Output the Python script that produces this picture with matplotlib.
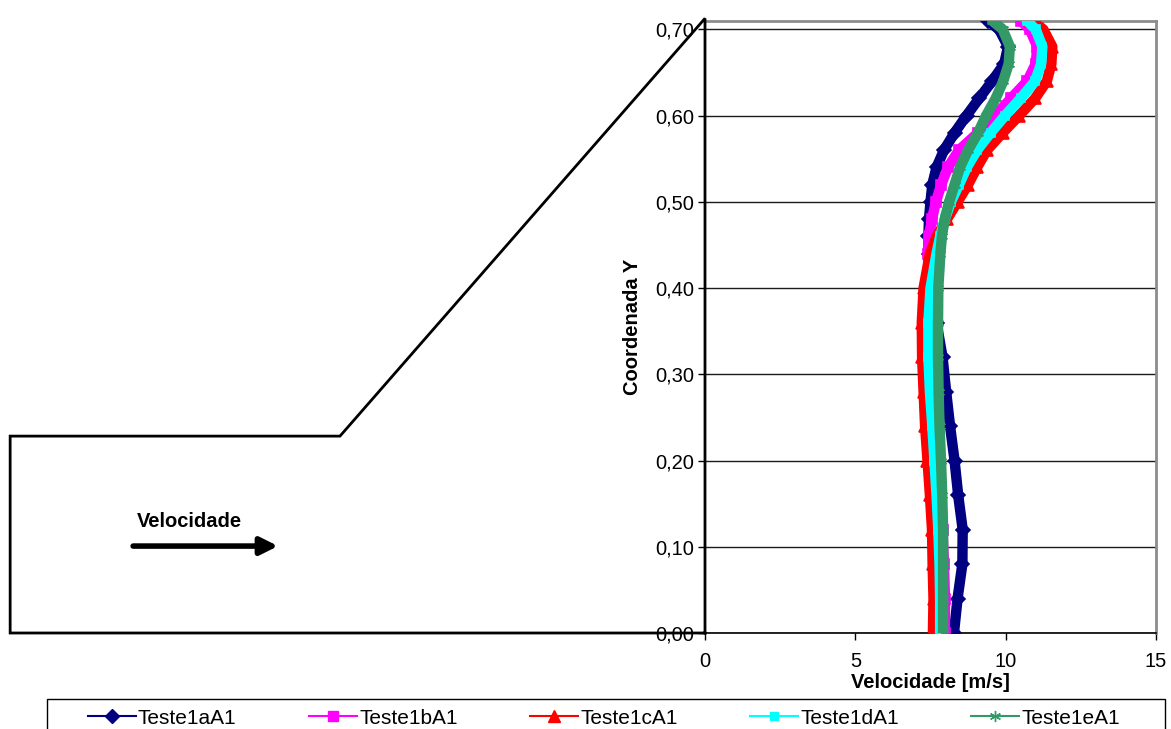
import matplotlib
matplotlib.use("Agg")
import matplotlib.pyplot as plt
from matplotlib.lines import Line2D
from matplotlib.patches import Rectangle

plt.rcParams['font.family'] = ['Liberation Sans', 'DejaVu Sans']

# Vertical coordinate (m) shared by every velocity profile
coord_y = [0.00, 0.04, 0.08, 0.12, 0.16, 0.20, 0.24, 0.28, 0.32, 0.36, 0.40,
           0.44, 0.46, 0.48, 0.50, 0.52, 0.54, 0.56, 0.58, 0.60, 0.62, 0.64,
           0.66, 0.68, 0.70, 0.71]

# Velocity profiles (m/s)
teste1a = [8.28, 8.40, 8.56, 8.57, 8.42, 8.30, 8.15, 8.02, 7.90, 7.70, 7.52,
           7.44, 7.43, 7.45, 7.50, 7.56, 7.70, 7.95, 8.30, 8.70, 9.12, 9.55,
           9.95, 10.08, 9.78, 9.40]
teste1b = [7.98, 7.98, 7.95, 7.90, 7.82, 7.75, 7.68, 7.60, 7.57, 7.55, 7.50,
           7.42, 7.45, 7.55, 7.68, 7.86, 8.08, 8.45, 9.08, 9.65, 10.18, 10.72,
           11.00, 11.05, 10.80, 10.50]
teste1c = [7.58, 7.60, 7.57, 7.55, 7.48, 7.40, 7.32, 7.27, 7.22, 7.21, 7.27,
           7.48, 7.70, 8.05, 8.40, 8.75, 9.05, 9.38, 9.90, 10.45, 10.98, 11.37,
           11.52, 11.55, 11.25, 10.85]
teste1d = [7.82, 7.82, 7.80, 7.76, 7.70, 7.63, 7.56, 7.48, 7.43, 7.43, 7.50,
           7.70, 7.82, 7.98, 8.18, 8.45, 8.71, 9.05, 9.50, 9.98, 10.50, 10.98,
           11.18, 11.22, 11.00, 10.70]
teste1e = [7.92, 7.92, 7.92, 7.92, 7.89, 7.85, 7.80, 7.77, 7.75, 7.75, 7.76,
           7.83, 7.88, 7.97, 8.12, 8.30, 8.48, 8.75, 9.08, 9.35, 9.67, 9.92,
           10.10, 10.14, 9.90, 9.55]

series_names = ['Teste1aA1', 'Teste1bA1', 'Teste1cA1', 'Teste1dA1', 'Teste1eA1']
series_values = [teste1a, teste1b, teste1c, teste1d, teste1e]

x_ticks = [0, 5, 10, 15]
x_tick_labels = ['0', '5', '10', '15']
y_ticks = [0.0, 0.1, 0.2, 0.3, 0.4, 0.5, 0.6, 0.7]
y_tick_labels = ['0,00', '0,10', '0,20', '0,30', '0,40', '0,50', '0,60', '0,70']

# Spillway outline (velocity-axis units, metres) and flow arrow
dam_x = [0.0, -23.11, -23.11, -12.14, 0.0, 0.0]
dam_y = [0.0, 0.0, 0.2283, 0.2283, 0.7127, 0.0]

colors = ['#000080', '#FF00FF', '#FF0000', '#00FFFF', '#339966']
markers = ['D', 's', '^', 's', (6, 2, 0)]
marker_sizes = [7, 7, 8, 6, 8]

FS = 14.5
W, H = 1171, 729
fig = plt.figure(figsize=(W / 100, H / 100), dpi=100)
ax = fig.add_axes([705 / W, 1 - 633 / H, (1156 - 705) / W, (633 - 20.7) / H])

for vals, name, c, m, ms in zip(series_values, series_names, colors, markers, marker_sizes):
    ax.plot(vals, coord_y, color=c, lw=7.5, marker=m, ms=ms, mfc=c, mec=c,
            mew=1.2, solid_joinstyle='round', solid_capstyle='round', zorder=3)

ax.set_xlim(0, 15)
ax.set_ylim(0, 0.71)
ax.set_xticks(x_ticks)
ax.set_xticklabels(x_tick_labels)
ax.set_yticks(y_ticks)
ax.set_yticklabels(y_tick_labels)
ax.tick_params(axis='both', labelsize=FS, direction='out', length=5, width=1,
               color='black')
ax.tick_params(axis='x', pad=9)
ax.tick_params(axis='y', pad=3)
ax.yaxis.grid(True, color='#1a1a1a', lw=1.0, zorder=1)
ax.set_axisbelow(True)
ax.set_xlabel('Velocidade [m/s]', fontsize=FS, fontweight='bold', labelpad=1)
ax.set_ylabel('Coordenada Y', fontsize=FS, fontweight='bold', labelpad=9)

for side in ('left', 'bottom'):
    ax.spines[side].set_color('black')
    ax.spines[side].set_linewidth(1.2)
for side in ('top', 'right'):
    ax.spines[side].set_color('#8c8c8c')
    ax.spines[side].set_linewidth(2.0)

# Spillway schematic to the left of the profile plot
ax.plot(dam_x, dam_y, color='black', lw=2.0, clip_on=False, zorder=4,
        solid_joinstyle='miter')
ax.annotate('', xy=(-14.2, 0.1008), xytext=(-19.02, 0.1008),
            arrowprops=dict(arrowstyle='-|>', lw=4, color='black',
                            mutation_scale=26, shrinkA=0, shrinkB=0),
            annotation_clip=False)
ax.text(-18.9, 0.1298, 'Velocidade', fontsize=FS, fontweight='bold',
        ha='left', va='center', clip_on=False)

# Legend strip along the bottom edge
fig.patches.append(Rectangle((47 / W, -0.05), (1165 - 47) / W, 0.05 + 1 - 699 / H,
                             transform=fig.transFigure, fill=False,
                             edgecolor='black', lw=1.0))
handles = [Line2D([], [], color=c, lw=1.5, marker=m, ms=ms, mfc=c, mec=c)
           for c, m, ms in zip(colors, markers, marker_sizes)]
fig.legend(handles, series_names, loc='center left',
           bbox_to_anchor=(88 / W, 1 - 718 / H, (1120 - 88) / W, 0.0),
           mode='expand', ncol=5, frameon=False, fontsize=FS + 0.5,
           handlelength=2.3, handletextpad=0.1, borderaxespad=0, borderpad=0)

fig.savefig('out.png', dpi=100)
